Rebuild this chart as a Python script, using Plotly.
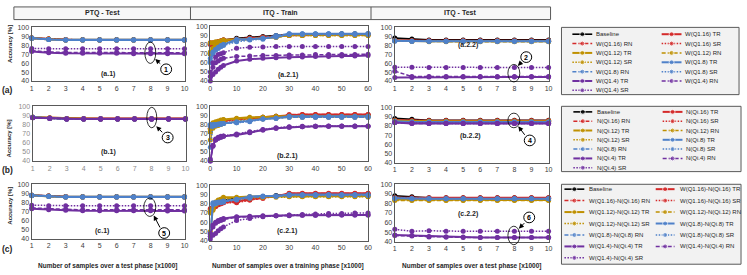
import plotly.graph_objects as go

W, H = 747, 275

# ---------------- data ----------------
TEST_X = [1, 2, 3, 4, 5, 6, 7, 8, 9, 10]
TRAIN_X = [0, 1, 2, 3, 4, 5, 10, 15, 20, 25, 30, 35, 40, 45, 50, 55, 60]
Y_TICKS = [40, 50, 60, 70, 80, 90, 100]
TEST_TICKS = [1, 2, 3, 4, 5, 6, 7, 8, 9, 10]
TRAIN_TICKS = [0, 10, 20, 30, 40, 50, 60]

LEVELS = ["16", "12", "8", "4"]
METHODS = ["TR", "RN", "SR"]
LEVEL_COLORS = ["#d42a2a", "#bf9000", "#4f81c9", "#7030a0"]
BASE_COLOR = "#000000"
METHOD_DASH = ["solid", "4px,2px", "1.5px,1.5px"]

NAMES_A = ["Baseline"] + [f"W(Q1.{l}) {m}" for l in LEVELS for m in METHODS]
NAMES_B = ["Baseline"] + [f"N(Qi.{l}) {m}" for l in LEVELS for m in METHODS]
NAMES_C = ["Baseline"] + [f"W(Q1.{l})-N(Qi.{l}) {m}" for l in LEVELS for m in METHODS]

# order in every panel: Baseline, Q16 TR/RN/SR, Q12 TR/RN/SR, Q8 TR/RN/SR, Q4 TR/RN/SR
A1 = [
    [88, 87, 86.5, 86.5, 86.5, 86.5, 86.5, 86.5, 86.5, 86.5],
    [88, 87, 86, 86, 86, 86, 86, 86, 86, 86],
    [88, 87, 86, 86, 86, 86, 86, 86, 86, 86],
    [88, 87, 86.5, 86, 86, 86, 86, 86, 86, 86],
    [88, 86.5, 86, 86, 86, 86, 86, 86, 86, 86],
    [87.5, 86.5, 86, 86, 86, 86, 86, 86, 86, 86],
    [88, 87, 86, 86, 86, 86, 86, 86, 86, 86],
    [88, 86.5, 86, 86, 86, 86, 86, 86, 86, 86],
    [88, 86.5, 86, 86, 86, 86, 86, 86, 86, 86],
    [87.5, 86.5, 86, 86, 86, 86, 86, 86, 86, 86],
    [73, 71.5, 71, 71, 71, 71, 70.5, 70.5, 70.5, 70.5],
    [74, 72.5, 72, 72, 72, 72, 71.5, 71.5, 71.5, 71.5],
    [76.5, 76, 76, 76, 76, 76, 76, 76, 76, 76],
]
A21 = [
    [70, 78, 81, 83, 84, 85, 87, 88, 89, 90, 91, 91, 91.5, 91.5, 92, 92, 92],
    [82, 82, 82, 83, 84, 85, 86, 87, 88, 89, 91, 91, 91, 91, 91, 91, 91],
    [80, 80, 81, 82, 83, 84, 86, 87, 88, 89, 90, 90, 90.5, 90.5, 91, 91, 91],
    [81, 81, 82, 83, 84, 85, 86, 87, 88, 89, 90, 91, 91, 91, 91, 91, 91],
    [82, 82, 83, 83, 84, 85, 86, 86, 87, 88, 91, 91, 91, 91, 91, 91, 91],
    [72, 76, 79, 81, 82, 83, 85, 86, 87, 88, 90, 90, 90, 90, 90, 90, 90],
    [70, 75, 78, 80, 81, 82, 85, 86, 87, 88, 90, 90, 90, 90, 90, 90, 90],
    [65, 72, 75, 77, 79, 80, 86, 86, 87, 88, 92, 92, 92, 92, 92, 92, 92],
    [60, 70, 74, 76, 78, 80, 84, 86, 87, 90, 92, 92, 92, 92, 92, 92, 92],
    [62, 71, 74, 76, 78, 79, 83, 85, 86, 89, 91, 91, 91, 91, 91, 91, 91],
    [40, 47, 50, 53, 55, 57, 62, 64, 65, 65.5, 66, 66.5, 67, 67, 67.5, 67.5, 68],
    [45, 55, 60, 62, 64, 65, 67, 67.5, 68, 68, 68.5, 68.5, 69, 69, 69, 69, 69.5],
    [50, 60, 66, 69, 70, 71, 76, 77, 77.5, 78, 78, 78, 78, 78, 78, 78, 78],
]
A22 = [
    [88, 87, 86, 86, 86, 86, 86, 86, 86, 86],
    [85.5, 85, 85, 85, 85, 85, 85, 85, 85, 85],
    [85, 85, 85, 85, 85, 85, 85, 85, 85, 85],
    [85.5, 85, 85, 85, 85, 85, 85, 85, 85, 85],
    [85, 84.5, 84.5, 84.5, 84.5, 84.5, 84.5, 84.5, 84.5, 84.5],
    [85, 84.5, 84, 84, 84, 84, 84, 84, 84, 84],
    [85, 84.5, 84.5, 84.5, 84.5, 84.5, 84.5, 84.5, 84.5, 84.5],
    [85, 84.5, 84.5, 84.5, 84.5, 84.5, 84.5, 84.5, 84.5, 84.5],
    [85, 84.5, 84.5, 84.5, 84.5, 84.5, 84.5, 84.5, 84.5, 84.5],
    [84.5, 84.5, 84.5, 84.5, 84.5, 84.5, 84.5, 84.5, 84.5, 84.5],
    [44, 44, 44.5, 44.5, 44.5, 44.5, 44.5, 44.5, 44.5, 44.5],
    [51, 45, 45, 45, 45, 45, 45, 45, 45, 45],
    [55.5, 55.5, 55, 55, 55, 55, 55, 55, 55, 55],
]
B1 = [
    [88, 87, 86.5, 86.5, 86.5, 86.5, 86.5, 86.5, 86.5, 86.5],
    [88, 87.5, 86.5, 86.5, 86.5, 86.5, 86.5, 86.5, 86.5, 86.5],
    [88, 87, 86, 86, 86, 86, 86, 86, 86, 86],
    [88, 87, 86, 86, 86, 86, 86, 86, 86, 86],
    [88, 87.5, 86.5, 86, 86, 86, 86, 86, 86, 86],
    [88, 87, 86, 86, 86, 86, 86, 86, 86, 86],
    [88, 87, 86, 86, 86, 86, 86, 86, 86, 86],
    [88, 87, 86, 86, 86, 86, 86, 86, 86, 86],
    [88, 87, 86, 86, 86, 86, 86, 86, 86, 86],
    [88, 87, 86, 86, 86, 86, 86, 86, 86, 86],
    [87.5, 87, 86, 86, 86, 86, 86, 86, 86, 86],
    [87.5, 87, 86, 86, 86, 86, 86, 86, 86, 86],
    [87.5, 87, 86, 86, 86, 86, 86, 86, 86, 86],
]
B21 = [
    [72, 80, 82, 83, 84, 85, 86, 87, 88, 89, 90, 90, 90, 90.5, 90.5, 90.5, 90.5],
    [78, 80, 81, 82, 83, 84, 86, 87, 88, 89, 90, 91, 91, 91, 91, 91, 91],
    [76, 79, 81, 82, 83, 84, 86, 87, 87, 88, 91, 91, 91, 91, 91, 91, 91],
    [75, 78, 80, 81, 82, 83, 85, 86, 87, 88, 90, 90, 90, 90, 90, 90, 90],
    [63, 82, 83, 84, 85, 85.5, 87, 88, 88, 89, 89, 89, 89, 89, 89, 89, 89],
    [75, 80, 82, 83, 84, 85, 86, 87, 88, 88, 89, 89, 89, 89, 89, 89, 89],
    [72, 76, 78, 79, 80, 81, 84, 85, 86, 87, 88, 88, 88, 88, 88, 88, 88],
    [80, 80, 80, 80.5, 81, 81, 83, 84, 86, 87, 89, 89, 89, 89, 89, 89, 89],
    [78, 79, 80, 80, 80.5, 81, 82, 84, 86, 87, 88, 88, 88, 88, 88, 88, 88],
    [55, 78, 79, 80, 80, 81, 82, 83, 86, 87, 88, 88, 88, 88, 88, 88, 88],
    [40, 57, 63, 65, 66, 67, 68.5, 71, 74, 76, 77, 77.5, 78, 78, 78, 78, 78],
    [40, 56, 63, 65, 66, 67, 69, 71.5, 74, 76, 77, 77.5, 78, 78, 78, 78, 78],
    [42, 57, 64, 66, 67, 67.5, 69.5, 72, 74.5, 76.5, 77.5, 78, 78, 78.5, 78.5, 78.5, 78.5],
]
B22 = [
    [88, 87, 86, 86, 86, 86, 86, 86, 86, 86],
    [86, 85.5, 85.5, 85.5, 85.5, 85.5, 85.5, 85.5, 85.5, 85.5],
    [86, 85.5, 85.5, 85.5, 85.5, 85.5, 85.5, 85.5, 85.5, 85.5],
    [85.5, 85, 85, 85, 85, 85, 85, 85, 85, 85],
    [85.5, 85, 85, 85, 85, 85, 85, 85, 85, 85],
    [85, 84.5, 84.5, 84.5, 84.5, 84.5, 84.5, 84.5, 84.5, 84.5],
    [85, 84.5, 84.5, 84.5, 84.5, 84.5, 84.5, 84.5, 84.5, 84.5],
    [85, 84, 84, 84, 84, 84, 84, 84, 84, 84],
    [84.5, 84, 84, 84, 84, 84, 84, 84, 84, 84],
    [84, 83.5, 83.5, 83.5, 83.5, 83.5, 83.5, 83.5, 83.5, 83.5],
    [83.5, 82.5, 82.5, 82.5, 82.5, 82.5, 82.5, 82.5, 82.5, 82.5],
    [83.5, 82.5, 82.5, 82.5, 82.5, 82.5, 82.5, 82.5, 82.5, 82.5],
    [83.5, 83, 82.5, 82.5, 82.5, 82.5, 82.5, 82.5, 82.5, 82.5],
]
C1 = [
    [88, 87, 86.5, 86.5, 86.5, 86.5, 86.5, 86.5, 86.5, 86.5],
    [88, 87, 86, 86, 86, 86, 86, 86, 86, 86],
    [88, 87, 86, 86, 86, 86, 86, 86, 86, 86],
    [88, 87, 86.5, 86, 86, 86, 86, 86, 86, 86],
    [88, 86.5, 86, 86, 86, 86, 86, 86, 86, 86],
    [87.5, 86.5, 86, 86, 86, 86, 86, 86, 86, 86],
    [88, 87, 86, 86, 86, 86, 86, 86, 86, 86],
    [88, 87, 86, 86, 86, 86, 86, 86, 86, 86],
    [88, 86.5, 86, 86, 86, 86, 86, 86, 86, 86],
    [87.5, 86.5, 86, 86, 86, 86, 86, 86, 86, 86],
    [73, 72, 71.5, 71, 71, 71, 71, 71, 70.5, 70.5],
    [74, 73, 72.5, 72, 72, 72, 72, 72, 72, 72],
    [77, 76.5, 76.5, 76.5, 76.5, 76.5, 76.5, 76.5, 76.5, 76.5],
]
C21 = [
    [72, 76, 79, 81, 83, 84, 86, 87, 88, 89, 90, 90, 90, 90, 90, 90, 90],
    [75, 76, 78, 80, 81, 82, 83, 85, 87, 88, 91.5, 91.5, 91.5, 91.5, 91.5, 91.5, 91.5],
    [72, 74, 77, 79, 80, 81, 82, 84, 86, 88, 91, 91, 91, 91, 91, 91, 91],
    [74, 75, 77, 79, 80, 81, 81, 84, 86, 88, 90.5, 90.5, 90.5, 90.5, 90.5, 90.5, 90.5],
    [50, 75, 82, 84, 85, 87, 87, 88, 88, 88, 88.5, 88.5, 88.5, 88.5, 88.5, 88.5, 88.5],
    [70, 73, 80, 83, 85, 86, 86, 87, 87, 88, 88, 88, 88, 88, 88, 88, 88],
    [72, 75, 79, 81, 83, 84, 85, 86, 87, 87, 87.5, 87.5, 87.5, 87.5, 87.5, 87.5, 87.5],
    [45, 81, 81, 82, 82, 83, 85, 88, 88.5, 88.5, 90, 90, 90, 90, 90, 90, 90],
    [48, 80, 81, 81, 82, 82, 85, 87, 88, 88.5, 89.5, 89.5, 89.5, 89.5, 89.5, 89.5, 89.5],
    [47, 79, 80, 81, 81, 82, 84, 86, 88, 88, 89, 89, 89, 89, 89, 89, 89],
    [48, 57, 60, 62, 63, 64, 66, 66.5, 67, 67, 67.5, 67.5, 67.5, 68, 68, 68, 68],
    [45, 55, 59, 61, 62, 63, 65.5, 66, 66.5, 67, 67, 67.5, 67.5, 68, 68, 68, 68],
    [42, 46, 48, 51, 53, 55, 62, 64, 66, 67, 68, 68.5, 69, 69.5, 69.5, 70, 70],
]
C22 = [
    [88, 87, 86, 86, 86, 86, 86, 86, 86, 86],
    [86, 86, 86, 86, 86, 86, 86, 86, 86, 86],
    [86, 85.5, 85.5, 85.5, 85.5, 85.5, 85.5, 85.5, 85.5, 85.5],
    [86, 85.5, 85.5, 85.5, 85.5, 85.5, 85.5, 85.5, 85.5, 85.5],
    [84, 84, 83.5, 83.5, 83.5, 83.5, 83.5, 83.5, 83.5, 83.5],
    [83, 83, 83, 83, 83, 83, 83, 83, 83, 83],
    [84, 83.5, 83.5, 83.5, 83.5, 83.5, 83.5, 83.5, 83.5, 83.5],
    [85.5, 85, 85, 85, 85, 85, 85, 85, 85, 85],
    [85.5, 85, 85, 85, 85, 85, 85, 85, 85, 85],
    [85.5, 85, 85, 85, 85, 85, 85, 85, 85, 85],
    [47, 46.5, 45.5, 45, 45, 44.5, 44.5, 44.5, 44.5, 44.5],
    [46.5, 46, 45, 45, 44.5, 44.5, 44.5, 44.5, 44.5, 44.5],
    [53, 51, 51.5, 51, 51, 51, 51, 51, 51, 51],
]

# ---------------- layout helpers ----------------
FONT = "Liberation Sans"
FRAME = "#595959"


def fx(px):
    return px / W


def fy(py):
    return 1 - py / H


def style(k):
    if k == 0:
        return BASE_COLOR, "solid", 1.6
    lvl, m = (k - 1) // 3, (k - 1) % 3
    return LEVEL_COLORS[lvl], METHOD_DASH[m], (2.0 if m == 0 else 1.5)


def label(px, py, text, size=7, color="#262626", **kw):
    d = dict(x=fx(px), y=fy(py), xref="paper", yref="paper", text=text,
             showarrow=False, xanchor="center", yanchor="middle",
             font=dict(size=size, color=color, family=FONT))
    d.update(kw)
    return d


# (data, x values, x ticks, pixel box (x0, x1, y0, y1), label, label pos, tick colour)
PANELS = [
    (A1, TEST_X, TEST_TICKS, (30, 184, 24, 79), "(a.1)", (107, 72), "#404040"),
    (A21, TRAIN_X, TRAIN_TICKS, (210, 369, 23, 79), "(a.2.1)", (288, 73), "#404040"),
    (A22, TEST_X, TEST_TICKS, (396, 551, 24, 79), "(a.2.2)", (470, 42), "#404040"),
    (B1, TEST_X, TEST_TICKS, (31, 185, 105, 161), "(b.1)", (107, 152), "#8c8c8c"),
    (B21, TRAIN_X, TRAIN_TICKS, (210, 369, 105, 161), "(b.2.1)", (288, 156), "#404040"),
    (B22, TEST_X, TEST_TICKS, (396, 551, 106, 163), "(b.2.2)", (472, 135), "#404040"),
    (C1, TEST_X, TEST_TICKS, (30, 184, 185, 241), "(c.1)", (101, 233), "#404040"),
    (C21, TRAIN_X, TRAIN_TICKS, (210, 369, 186, 243), "(c.2.1)", (287, 233), "#404040"),
    (C22, TEST_X, TEST_TICKS, (396, 551, 185, 244), "(c.2.2)", (470, 215), "#404040"),
]

fig = go.Figure()
layout = dict(
    width=W, height=H, margin=dict(l=0, r=0, t=0, b=0, pad=0),
    paper_bgcolor="white", plot_bgcolor="rgba(0,0,0,0)", showlegend=False,
    font=dict(family=FONT, size=7, color="#262626"),
)
annotations = []
shapes = []

for i, (data, xs, xt, box, lab, lpos, tcol) in enumerate(PANELS):
    n = i + 1
    xa = "x" if n == 1 else f"x{n}"
    ya = "y" if n == 1 else f"y{n}"
    x0, x1, y0, y1 = box
    for k, ys in enumerate(data):
        c, d, w = style(k)
        fig.add_trace(go.Scatter(
            x=xs, y=ys, xaxis=xa, yaxis=ya, mode="lines+markers",
            line=dict(color=c, dash=d, width=w),
            marker=dict(color=c, size=5), cliponaxis=False, hoverinfo="skip"))
    axcommon = dict(showline=True, mirror=True, linecolor=FRAME, linewidth=1.2,
                    showgrid=False, zeroline=False, ticks="",
                    tickfont=dict(size=7, color=tcol, family=FONT), fixedrange=True)
    layout["xaxis" if n == 1 else f"xaxis{n}"] = dict(
        domain=[fx(x0), fx(x1)], anchor=ya, range=[xt[0], xt[-1]],
        tickvals=xt, **axcommon)
    layout["yaxis" if n == 1 else f"yaxis{n}"] = dict(
        domain=[fy(y1), fy(y0)], anchor=xa, range=[40, 100],
        tickvals=Y_TICKS, **axcommon)
    annotations.append(label(lpos[0], lpos[1], f"<b>{lab}</b>", size=7))

# ---------------- overlay axis in pixel units (legends) ----------------
layout["xaxis10"] = dict(domain=[0, 1], range=[0, W], visible=False, fixedrange=True, anchor="y10")
layout["yaxis10"] = dict(domain=[0, 1], range=[H, 0], visible=False, fixedrange=True, anchor="x10")

LEGENDS = [
    (NAMES_A, (564, 24, 743, 93), 31.0, 9.6, [(575, 595, 597), (665, 685, 687)]),
    (NAMES_B, (564, 105, 745, 172), 110.7, 9.55, [(576, 595, 598), (666, 686, 688)]),
    (NAMES_C, (564, 185, 745, 267), 190.0, 11.75, [(567, 587, 590), (659, 678, 681)]),
]
for names, (bx0, by0, bx1, by1), r0, dr, cols in LEGENDS:
    shapes.append(dict(type="rect", xref="paper", yref="paper",
                       x0=fx(bx0), x1=fx(bx1), y0=fy(by1), y1=fy(by0),
                       line=dict(color=FRAME, width=1), fillcolor="#f2f2f2", layer="below"))
    for k, name in enumerate(names):
        row, col = k // 2, k % 2
        lx0, lx1, tx = cols[col]
        ry = r0 + row * dr
        c, d, w = style(k)
        fig.add_trace(go.Scatter(
            x=[lx0, (lx0 + lx1) / 2, lx1], y=[ry, ry, ry], xaxis="x10", yaxis="y10",
            mode="lines+markers", line=dict(color=c, dash=d, width=w),
            marker=dict(color=c, size=[0, 5, 0]), hoverinfo="skip", cliponaxis=False))
        annotations.append(dict(x=tx, y=ry, xref="x10", yref="y10", text=name,
                                showarrow=False, xanchor="left", yanchor="middle",
                                font=dict(size=6, color="#262626", family=FONT)))

# ---------------- header ----------------
shapes.append(dict(type="rect", xref="paper", yref="paper", x0=fx(12), x1=fx(553),
                   y0=fy(16), y1=fy(3), line=dict(color=FRAME, width=1),
                   fillcolor="#f7f7f7", layer="below"))
for xd in (190, 372):
    shapes.append(dict(type="line", xref="paper", yref="paper", x0=fx(xd), x1=fx(xd),
                       y0=fy(16), y1=fy(3), line=dict(color=FRAME, width=1)))
for txt, cx in (("PTQ - Test", 101), ("ITQ - Train", 281), ("ITQ - Test", 462)):
    annotations.append(label(cx, 9.5, f"<b>{txt}</b>", size=7))

# row labels and axis titles
for txt, cy in (("(a)", 88), ("(b)", 170), ("(c)", 251)):
    annotations.append(label(6, cy, f"<b>{txt}</b>", size=8.5))
for cy in (41, 138, 207):
    annotations.append(label(8, cy, "<b>Accuracy [%]</b>", size=6, textangle=-90))
for txt, cx in (("Number of samples over a test phase [x1000]", 106),
                ("Number of samples over a training phase [x1000]", 288),
                ("Number of samples over a test phase [x1000]", 473)):
    annotations.append(label(cx, 269, f"<b>{txt}</b>", size=6.5))

# ---------------- callouts (ellipse + numbered circle + arrow) ----------------
CALLOUTS = [
    ("1", (144, 39, 155, 61), (165.5, 67), (161, 62.5), (154.5, 56.5)),
    ("2", (510, 62, 522, 80), (528.5, 54.5), (525, 58.5), (520, 63.5)),
    ("3", (146, 106, 156, 127), (167, 137), (163, 133), (155.5, 125.5)),
    ("4", (510, 112, 522, 127), (532, 140), (528, 135.5), (520.5, 125.5)),
    ("5", (143, 199, 155, 218), (163.5, 235), (160, 230.5), (153, 217)),
    ("6", (510, 228, 522, 247), (531.5, 219), (528, 223.5), (521, 230.5)),
]
for num, (ex0, ey0, ex1, ey1), (cx, cy), (ax_, ay_), (tx, ty) in CALLOUTS:
    shapes.append(dict(type="circle", xref="paper", yref="paper",
                       x0=fx(ex0), x1=fx(ex1), y0=fy(ey1), y1=fy(ey0),
                       line=dict(color="#000000", width=0.8)))
    r = 5.5
    shapes.append(dict(type="circle", xref="paper", yref="paper",
                       x0=fx(cx - r), x1=fx(cx + r), y0=fy(cy + r), y1=fy(cy - r),
                       line=dict(color="#000000", width=1), fillcolor="white"))
    annotations.append(label(cx, cy, f"<b>{num}</b>", size=7, color="#000000"))
    annotations.append(dict(x=fx(tx), y=fy(ty), xref="paper", yref="paper", text="",
                            showarrow=True, ax=ax_ - tx, ay=ay_ - ty,
                            arrowhead=2, arrowsize=1, arrowwidth=1, arrowcolor="#000000"))

layout["annotations"] = annotations
layout["shapes"] = shapes
fig.update_layout(**layout)
fig.write_html("out.html", config={"displayModeBar": False, "staticPlot": True},
               post_script="document.body.style.margin='0';document.body.style.overflow='hidden';")
